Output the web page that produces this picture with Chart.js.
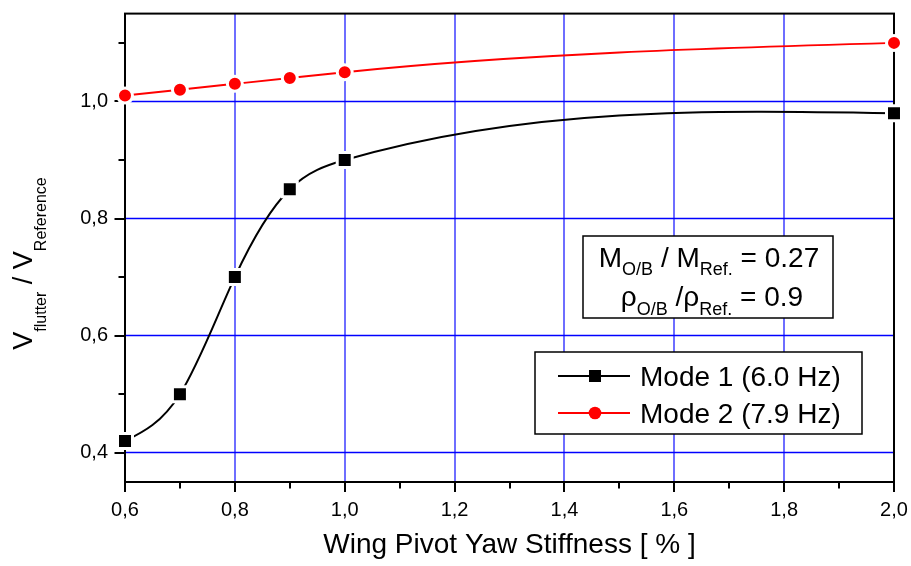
<!DOCTYPE html>
<html>
<head>
<meta charset="utf-8">
<script src="https://cdn.jsdelivr.net/npm/chart.js@4.4.1/dist/chart.umd.min.js"></script>
<style>
  html, body { margin: 0; padding: 0; background: #fff; }
</style>
</head>
<body>
<canvas id="flutterChart" width="911" height="566"></canvas>
<script>
// flutter speed ratio vs. wing pivot yaw stiffness
const stiffness = [0.6, 0.7, 0.8, 0.9, 1.0, 2.0];
const mode1 = [0.42, 0.50, 0.70, 0.85, 0.90, 0.98];
const mode2 = [1.01, 1.02, 1.03, 1.04, 1.05, 1.10];
const seriesNames = ["Mode 1 (6.0 Hz)", "Mode 2 (7.9 Hz)"];

const xMajor = [0.6, 0.8, 1.0, 1.2, 1.4, 1.6, 1.8, 2.0];
const xLabels = ["0,6", "0,8", "1,0", "1,2", "1,4", "1,6", "1,8", "2,0"];
const xMinor = [0.7, 0.9, 1.1, 1.3, 1.5, 1.7, 1.9];
const yMajor = [0.4, 0.6, 0.8, 1.0];
const yLabels = ["0,4", "0,6", "0,8", "1,0"];
const yMinor = [0.5, 0.7, 0.9, 1.1];

const FONT = '"Liberation Sans", Arial, sans-serif';

// draw a row of text pieces, each with its own size and baseline shift
function runsWidth(ctx, runs) {
    let w = 0;
    runs.forEach(([t, size]) => {
        ctx.font = size + "px " + FONT;
        w += ctx.measureText(t).width;
    });
    return w;
}
function drawRuns(ctx, x, y, runs) {
    let cx = x;
    runs.forEach(([t, size, dy]) => {
        ctx.font = size + "px " + FONT;
        ctx.fillText(t, cx, y + dy);
        cx += ctx.measureText(t).width;
    });
}

function legendMarker(ctx, style, x, y, color) {
    ctx.fillStyle = color;
    if (style === "rect") {
        ctx.fillRect(x - 6, y - 6, 12, 12);
    } else {
        ctx.beginPath();
        ctx.arc(x, y, 6.3, 0, Math.PI * 2);
        ctx.fill();
    }
}

// natural cubic spline handles for the line's bezier segments
function setSplineHandles(pts) {
    const n = pts.length;
    const h = [], s = [], M = new Array(n).fill(0);
    for (let i = 0; i < n - 1; i++) {
        h[i] = pts[i + 1].x - pts[i].x;
        s[i] = (pts[i + 1].y - pts[i].y) / h[i];
    }
    const b = [], c = [], r = [];
    for (let i = 1; i < n - 1; i++) {
        b[i] = 2 * (h[i - 1] + h[i]);
        c[i] = h[i];
        r[i] = 6 * (s[i] - s[i - 1]);
    }
    for (let i = 2; i < n - 1; i++) {
        const w = h[i - 1] / b[i - 1];
        b[i] -= w * c[i - 1];
        r[i] -= w * r[i - 1];
    }
    for (let i = n - 2; i >= 1; i--) {
        M[i] = (r[i] - c[i] * M[i + 1]) / b[i];
    }
    for (let i = 0; i < n - 1; i++) {
        const d0 = s[i] - (h[i] * (2 * M[i] + M[i + 1])) / 6;
        const d1 = s[i] + (h[i] * (M[i] + 2 * M[i + 1])) / 6;
        pts[i].cp2x = pts[i].x + h[i] / 3;
        pts[i].cp2y = pts[i].y + (d0 * h[i]) / 3;
        pts[i + 1].cp1x = pts[i + 1].x - h[i] / 3;
        pts[i + 1].cp1y = pts[i + 1].y - (d1 * h[i]) / 3;
    }
}

const splineLines = {
    id: "splineLines",
    beforeDatasetDraw(chart, args) {
        const meta = args.meta;
        meta.dataset.updateControlPoints(chart.chartArea, meta.indexAxis);
        setSplineHandles(meta.data);
    },
};

const decor = {
    id: "decor",
    beforeDatasetsDraw(chart) {
        const { ctx, chartArea: a, scales } = chart;
        ctx.save();

        // grid
        ctx.strokeStyle = "#6e6eff";
        ctx.lineWidth = 2;
        ctx.beginPath();
        xMajor.slice(1, -1).forEach((v) => {
            const px = Math.round(scales.x.getPixelForValue(v));
            ctx.moveTo(px, a.top);
            ctx.lineTo(px, a.bottom);
        });
        ctx.stroke();
        ctx.strokeStyle = "#0000ff";
        ctx.lineWidth = 1.4;
        ctx.beginPath();
        yMajor.forEach((v) => {
            const py = Math.floor(scales.y.getPixelForValue(v)) + 0.5;
            ctx.moveTo(a.left, py);
            ctx.lineTo(a.right, py);
        });
        ctx.stroke();

        // frame
        ctx.strokeStyle = "#000";
        ctx.lineWidth = 2;
        ctx.strokeRect(a.left, a.top, a.right - a.left, a.bottom - a.top);

        // tick marks, pointing outward
        ctx.beginPath();
        xMajor.concat(xMinor).forEach((v) => {
            const px = Math.round(scales.x.getPixelForValue(v));
            const len = xMajor.includes(v) ? 10 : 6.5;
            ctx.moveTo(px, a.bottom);
            ctx.lineTo(px, a.bottom + len);
        });
        yMajor.concat(yMinor).forEach((v) => {
            const py = Math.round(scales.y.getPixelForValue(v));
            const len = yMajor.includes(v) ? 10.5 : 6.5;
            ctx.moveTo(a.left, py);
            ctx.lineTo(a.left - len, py);
        });
        ctx.stroke();
        ctx.restore();
    },
    afterDraw(chart) {
        const { ctx } = chart;
        ctx.save();
        ctx.fillStyle = "#000";
        ctx.textBaseline = "alphabetic";

        // y axis title with subscripts
        const yTitle = [["V", 27, 0], ["flutter", 16, 14], [" / ", 27, 0], ["V", 27, 0], ["Reference", 16, 14]];
        ctx.save();
        ctx.translate(31.5, 263.5);
        ctx.rotate(-Math.PI / 2);
        drawRuns(ctx, -runsWidth(ctx, yTitle) / 2, 0, yTitle);
        ctx.restore();

        // mass / density ratio box
        ctx.fillStyle = "#fff";
        ctx.fillRect(583, 236, 250, 82);
        ctx.strokeStyle = "#000";
        ctx.lineWidth = 1.5;
        ctx.strokeRect(583, 236, 250, 82);
        ctx.fillStyle = "#000";
        const line1 = [["M", 28, 0], ["O/B", 18, 8], [" / M", 28, 0], ["Ref.", 18, 8], [" = 0.27", 28, 0]];
        const line2 = [["\u03c1", 28, 0], ["O/B", 18, 9], [" /\u03c1", 28, 0], ["Ref.", 18, 9], [" = 0.9", 28, 0]];
        drawRuns(ctx, 709 - runsWidth(ctx, line1) / 2, 267, line1);
        drawRuns(ctx, 712 - runsWidth(ctx, line2) / 2, 306, line2);

        // legend
        ctx.fillStyle = "#fff";
        ctx.fillRect(535, 352, 327, 82);
        ctx.strokeRect(535, 352, 327, 82);
        const rows = [
            { y: 376, color: "#000", style: "rect" },
            { y: 413, color: "#ff0000", style: "circle" },
        ];
        rows.forEach((r, i) => {
            ctx.strokeStyle = r.color;
            ctx.lineWidth = 2;
            ctx.beginPath();
            ctx.moveTo(558, r.y);
            ctx.lineTo(630, r.y);
            ctx.stroke();
            legendMarker(ctx, r.style, 595, r.y, r.color);
            ctx.fillStyle = "#000";
            ctx.font = "28px " + FONT;
            ctx.fillText(seriesNames[i], 640, r.y + 10);
        });
        ctx.restore();
    },
};

const hiddenGrid = (len) => ({
    drawOnChartArea: false,
    drawTicks: true,
    tickLength: len,
    tickColor: "rgba(0,0,0,0)",
});

const ctx = document.getElementById("flutterChart").getContext("2d");
const chart = new Chart(ctx, {
    type: "line",
    data: {
        datasets: [
            {
                label: seriesNames[0],
                data: stiffness.map((x, i) => ({ x: x, y: mode1[i] })),
                borderColor: "#000",
                borderWidth: 2,
                cubicInterpolationMode: "monotone",
                pointStyle: "rect",
                pointRadius: 10.6,
                pointBackgroundColor: "#000",
                pointBorderColor: "#fff",
                pointBorderWidth: 3,
                clip: false,
            },
            {
                label: seriesNames[1],
                data: stiffness.map((x, i) => ({ x: x, y: mode2[i] })),
                borderColor: "#ff0000",
                borderWidth: 2,
                cubicInterpolationMode: "monotone",
                pointStyle: "circle",
                pointRadius: 7.5,
                pointBackgroundColor: "#ff0000",
                pointBorderColor: "#fff",
                pointBorderWidth: 3,
                clip: false,
            },
        ],
    },
    options: {
        responsive: false,
        animation: false,
        events: [],
        layout: { padding: { top: 10, right: 17, bottom: 0, left: 0 } },
        plugins: {
            legend: { display: false },
            title: { display: false },
            tooltip: { enabled: false },
        },
        scales: {
            x: {
                type: "linear",
                min: 0.6,
                max: 2.0,
                afterBuildTicks: (s) => {
                    s.ticks = xMajor.map((v) => ({ value: v }));
                },
                afterFit: (s) => {
                    s.height = 84;
                    s.paddingTop = 0;
                    s.paddingBottom = 0;
                    s.paddingLeft = 0;
                    s.paddingRight = 0;
                },
                grid: hiddenGrid(16),
                border: { display: false },
                ticks: {
                    padding: 0,
                    color: "#000",
                    maxRotation: 0,
                    autoSkip: false,
                    font: { family: FONT, size: 20 },
                    callback: (v, i) => xLabels[i],
                },
                title: {
                    display: true,
                    text: "Wing Pivot Yaw Stiffness [ % ]",
                    color: "#000",
                    font: { family: FONT, size: 28 },
                    padding: { top: 0, bottom: 4 },
                },
            },
            y: {
                type: "linear",
                min: 0.35,
                max: 1.15,
                afterBuildTicks: (s) => {
                    s.ticks = yMajor.map((v) => ({ value: v }));
                },
                afterFit: (s) => {
                    s.width = 125;
                    s.paddingTop = 0;
                    s.paddingBottom = 0;
                },
                grid: hiddenGrid(17),
                border: { display: false },
                ticks: {
                    padding: 0,
                    color: "#000",
                    font: { family: FONT, size: 20 },
                    callback: (v, i) => yLabels[i],
                },
            },
        },
    },
    plugins: [decor, splineLines],
});
</script>
</body>
</html>
